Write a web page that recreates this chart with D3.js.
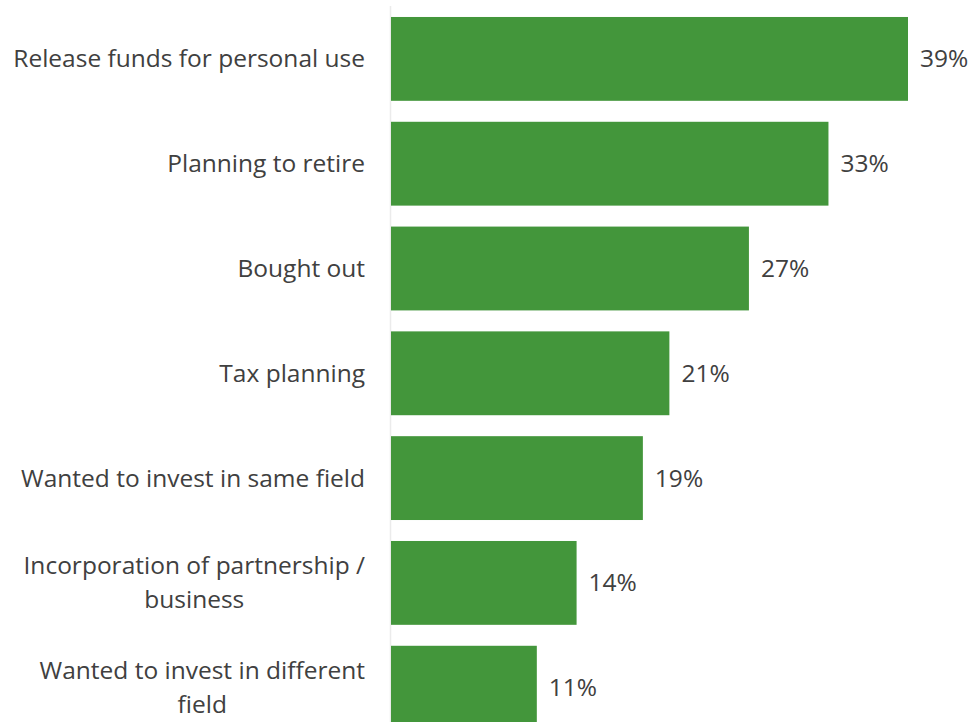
<!DOCTYPE html>
<html>
<head>
<meta charset="utf-8">
<script src="https://cdn.jsdelivr.net/npm/d3@7"></script>
<style>
  html, body { margin: 0; padding: 0; background: #fff; }
  svg { display: block; }
  text { font-family: "Open Sans", "Noto Sans", sans-serif; fill: #404040; }
</style>
</head>
<body>
<svg id="chart" width="972" height="722"></svg>
<script>
// Reasons given, top to bottom; each entry holds the wrapped lines of its label
const categories = [
  ["Release funds for personal use"],
  ["Planning to retire"],
  ["Bought out"],
  ["Tax planning"],
  ["Wanted to invest in same field"],
  ["Incorporation of partnership /", "business"],
  ["Wanted to invest in different", "field"]
];
const values = [39, 33, 27, 21, 19, 14, 11];

const svg = d3.select("#chart");
const W = 972, H = 722;
const lineH = 34;

// size the text so the longest label spans the left margin
const probe = svg.append("text").attr("font-size", 20).text(categories[0][0]);
const fontSize = 20 * 352 / probe.node().getComputedTextLength();
probe.remove();

const x = d3.scaleLinear().domain([0, 39]).range([391, 908]);
const y = d3.scaleBand()
  .domain(d3.range(categories.length))
  .range([6.5, 6.5 + 7 * 104.8])
  .paddingInner(0.2)
  .paddingOuter(0.1);

// vertical category axis line
svg.append("line")
  .attr("x1", 390.5).attr("x2", 390.5)
  .attr("y1", 6).attr("y2", H)
  .attr("stroke", "#ebebeb").attr("stroke-width", 1.5);

// bars
svg.append("g").selectAll("rect")
  .data(values)
  .join("rect")
  .attr("x", x(0))
  .attr("y", (d, i) => y(i))
  .attr("width", d => x(d) - x(0))
  .attr("height", y.bandwidth())
  .attr("fill", "#43963b");

// value labels
svg.append("g").selectAll("text")
  .data(values)
  .join("text")
  .attr("x", d => x(d) + 12)
  .attr("y", (d, i) => y(i) + y.bandwidth() / 2)
  .attr("dy", "0.35em")
  .attr("font-size", fontSize)
  .text(d => d + "%");

// category labels: right-aligned block, wrapped lines centred within it
const rightEdge = 365;
const lg = svg.append("g");
categories.forEach((lines, i) => {
  const cy = y(i) + y.bandwidth() / 2;
  const g = lg.append("g");
  const texts = lines.map((ln, k) => g.append("text")
    .attr("font-size", fontSize)
    .attr("y", cy + (k - (lines.length - 1) / 2) * lineH)
    .attr("dy", "0.35em")
    .text(ln));
  const widths = texts.map(t => t.node().getComputedTextLength());
  const maxW = d3.max(widths);
  texts.forEach(t => t.attr("x", rightEdge - maxW / 2).attr("text-anchor", "middle"));
});
</script>
</body>
</html>
